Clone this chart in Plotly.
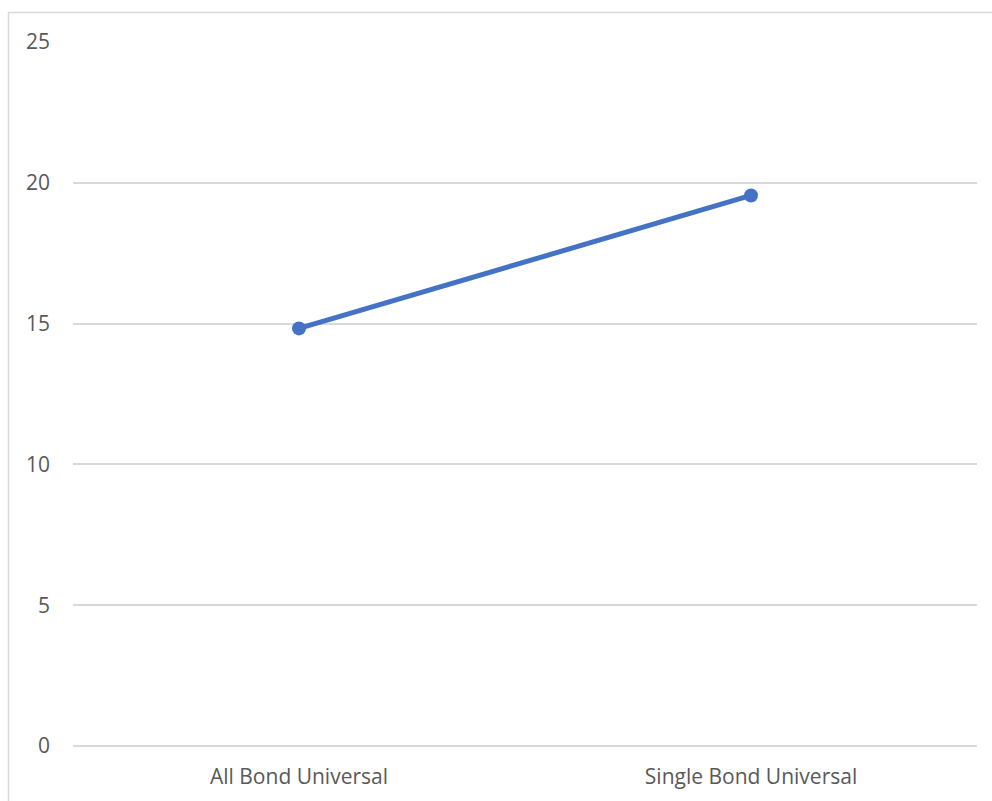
import plotly.graph_objects as go

# Category labels and their values
categories = ["All Bond Universal", "Single Bond Universal"]
values = [14.83, 19.55]

# Y axis ticks
y_ticks = [0, 5, 10, 15, 20, 25]

W, H = 992, 801
left, right, top, bottom = 73, 15, 42, 55
plot_w = W - left - right
plot_h = H - top - bottom

fig = go.Figure()
fig.add_trace(go.Scatter(
    x=categories,
    y=values,
    mode="lines+markers",
    line=dict(color="#4472C4", width=5),
    marker=dict(color="#4472C4", size=14),
    cliponaxis=False,
    showlegend=False,
))

text_font = dict(family="Open Sans", size=21, color="#595959")

# Outer chart-area border
fig.add_shape(
    type="rect", xref="paper", yref="paper",
    x0=(8.5 - left) / plot_w, x1=(W + 5 - left) / plot_w,
    y0=-(bottom + 5) / plot_h, y1=1 + (top - 12.5) / plot_h,
    line=dict(color="#D9D9D9", width=1.5),
    fillcolor="rgba(0,0,0,0)", layer="below",
)

fig.update_layout(
    width=W, height=H,
    margin=dict(l=left, r=right, t=top, b=bottom, pad=0),
    paper_bgcolor="white", plot_bgcolor="white",
    font=text_font,
    xaxis=dict(
        type="category",
        range=[-0.5, 1.5],
        showgrid=False, zeroline=False, showline=False,
        ticks="", tickfont=text_font,
        ticklabelstandoff=16,
    ),
    yaxis=dict(
        range=[0, 25],
        tickvals=y_ticks,
        showgrid=True, gridcolor="#D9D9D9", gridwidth=1.5,
        zeroline=True, zerolinecolor="#D9D9D9", zerolinewidth=1.5,
        showline=False,
        ticks="", tickfont=text_font,
        ticklabelstandoff=22,
    ),
)

fig.write_html("out.html")
